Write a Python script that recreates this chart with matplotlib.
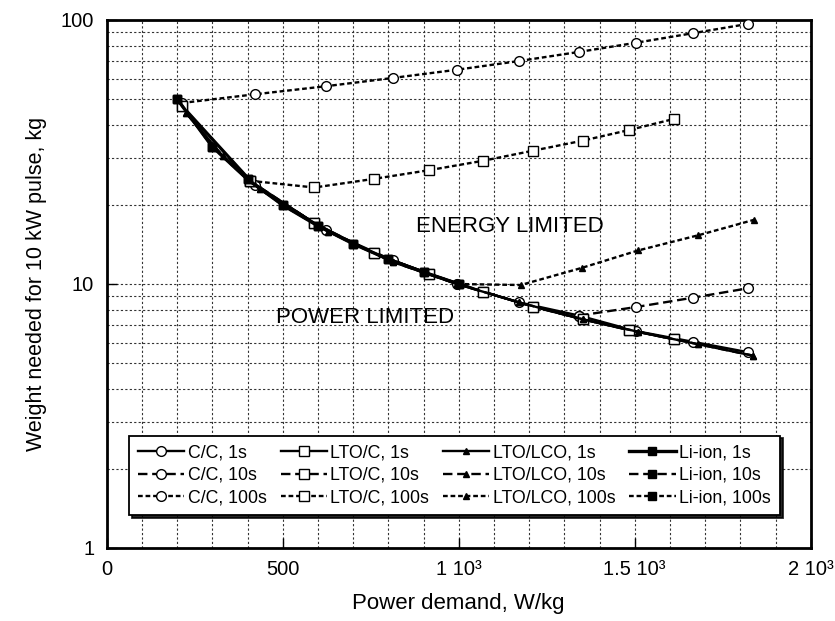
import matplotlib.pyplot as plt
from matplotlib.ticker import FixedLocator, NullFormatter, LogLocator

plt.rcParams['font.family'] = ['Liberation Sans', 'DejaVu Sans']

# power demand (W/kg) and weight (kg) per chemistry and pulse length
cc_1s_p = [214, 421, 622, 812, 995, 1171, 1342, 1504, 1665, 1821]
cc_1s_w = [47.5, 23.7, 16.0, 12.3, 10.0, 8.52, 7.59, 6.63, 6.04, 5.52]
cc_10s_p = [1342, 1504, 1665, 1821]
cc_10s_w = [7.59, 8.18, 8.87, 9.63]
cc_100s_p = [214, 421, 622, 812, 995, 1171, 1342, 1504, 1665, 1821]
cc_100s_w = [48.5, 52.3, 56.1, 60.3, 64.8, 69.9, 75.7, 82.0, 89.1, 96.6]

ltoc_1s_p = [213, 407, 590, 758, 917, 1070, 1212, 1352, 1484, 1612]
ltoc_1s_w = [47.2, 24.6, 17.0, 13.1, 10.9, 9.35, 8.20, 7.35, 6.69, 6.17]
ltoc_10s_p = ltoc_1s_p
ltoc_10s_w = ltoc_1s_w
ltoc_100s_p = [407, 590, 758, 917, 1070, 1212, 1352, 1484, 1612]
ltoc_100s_w = [24.6, 23.2, 25.0, 27.0, 29.3, 32.0, 34.9, 38.3, 42.2]

ltolco_1s_p = [226, 330, 436, 630, 814, 995, 1171, 1352, 1508, 1681, 1837]
ltolco_1s_w = [44.3, 30.5, 22.8, 15.8, 12.1, 10.0, 8.52, 7.35, 6.60, 5.91, 5.35]
ltolco_10s_p = ltolco_1s_p
ltolco_10s_w = ltolco_1s_w
ltolco_100s_p = [995, 1176, 1349, 1510, 1681, 1839]
ltolco_100s_w = [10.0, 9.91, 11.5, 13.4, 15.3, 17.5]

liion_1s_p = [200, 300, 400, 500, 600, 700, 800, 900, 1000]
liion_1s_w = [50.2, 33.1, 24.9, 19.9, 16.6, 14.2, 12.4, 11.1, 10.0]
liion_10s_p = liion_1s_p
liion_10s_w = liion_1s_w
liion_100s_p = liion_1s_p
liion_100s_w = liion_1s_w

styles = {'1s': '-', '10s': (0, (4, 2)), '100s': (0, (2, 1.2))}

fig = plt.figure(figsize=(8.35, 6.21), dpi=100)
ax = fig.add_axes([0.1278, 0.1176, 0.8431, 0.8502])

def curve(p, w, dur, marker, face, ms, label, lw=1.7, z=3):
    ax.plot(p, w, linestyle=styles[dur], color='black', lw=lw, marker=marker,
            mfc=face, mec='black', mew=1.0, ms=ms, label=label, zorder=z)

curve(cc_1s_p, cc_1s_w, '1s', 'o', 'white', 7.0, 'C/C, 1s')
curve(cc_10s_p, cc_10s_w, '10s', 'o', 'white', 7.0, 'C/C, 10s')
curve(cc_100s_p, cc_100s_w, '100s', 'o', 'white', 7.0, 'C/C, 100s')
curve(ltoc_1s_p, ltoc_1s_w, '1s', 's', 'white', 6.6, 'LTO/C, 1s')
curve(ltoc_10s_p, ltoc_10s_w, '10s', 's', 'white', 6.6, 'LTO/C, 10s')
curve(ltoc_100s_p, ltoc_100s_w, '100s', 's', 'white', 6.6, 'LTO/C, 100s')
curve(ltolco_1s_p, ltolco_1s_w, '1s', '^', 'black', 5.0, 'LTO/LCO, 1s')
curve(ltolco_10s_p, ltolco_10s_w, '10s', '^', 'black', 5.0, 'LTO/LCO, 10s')
curve(ltolco_100s_p, ltolco_100s_w, '100s', '^', 'black', 5.0, 'LTO/LCO, 100s')
curve(liion_1s_p, liion_1s_w, '1s', 's', 'black', 5.2, 'Li-ion, 1s', lw=2.4)
curve(liion_10s_p, liion_10s_w, '10s', 's', 'black', 5.2, 'Li-ion, 10s')
curve(liion_100s_p, liion_100s_w, '100s', 's', 'black', 5.2, 'Li-ion, 100s')

ax.set_yscale('log')
ax.set_xlim(0, 2000)
ax.set_ylim(1, 100)

ax.set_xticks([0, 500, 1000, 1500, 2000])
ax.set_xticklabels(['0', '500', '1 10³', '1.5 10³', '2 10³'])
ax.xaxis.set_minor_locator(FixedLocator(range(100, 2000, 100)))
ax.yaxis.set_major_locator(FixedLocator([1, 10, 100]))
ax.set_yticklabels(['1', '10', '100'])
ax.yaxis.set_minor_locator(LogLocator(base=10, subs=range(2, 10)))
ax.yaxis.set_minor_formatter(NullFormatter())

ax.tick_params(which='major', direction='in', length=7, width=1, labelsize=14.5, pad=9)
ax.tick_params(which='minor', length=0)
ax.grid(True, which='both', color='#333333', lw=0.8, linestyle=(0, (2, 2)))
ax.set_axisbelow(True)
for s in ax.spines.values():
    s.set_linewidth(2)

ax.set_xlabel('Power demand, W/kg', fontsize=16, labelpad=10)
ax.set_ylabel('Weight needed for 10 kW pulse, kg', fontsize=15.5, labelpad=10)

ax.text(1146, 16.5, 'ENERGY LIMITED', fontsize=16, ha='center', va='center')
ax.text(734, 7.45, 'POWER LIMITED', fontsize=16, ha='center', va='center')

leg = ax.legend(ncol=4, loc='lower left', bbox_to_anchor=(0.032, 0.0625, 0.924, 0.146),
                mode='expand', borderaxespad=0, fontsize=12.8, handlelength=2.6,
                handletextpad=0.2, labelspacing=0.3, numpoints=1, fancybox=False,
                shadow={'color': 'black', 'alpha': 0.85}, framealpha=1,
                edgecolor='black', borderpad=0.5)
leg.get_frame().set_linewidth(1.3)

fig.savefig('out.png', dpi=100)
